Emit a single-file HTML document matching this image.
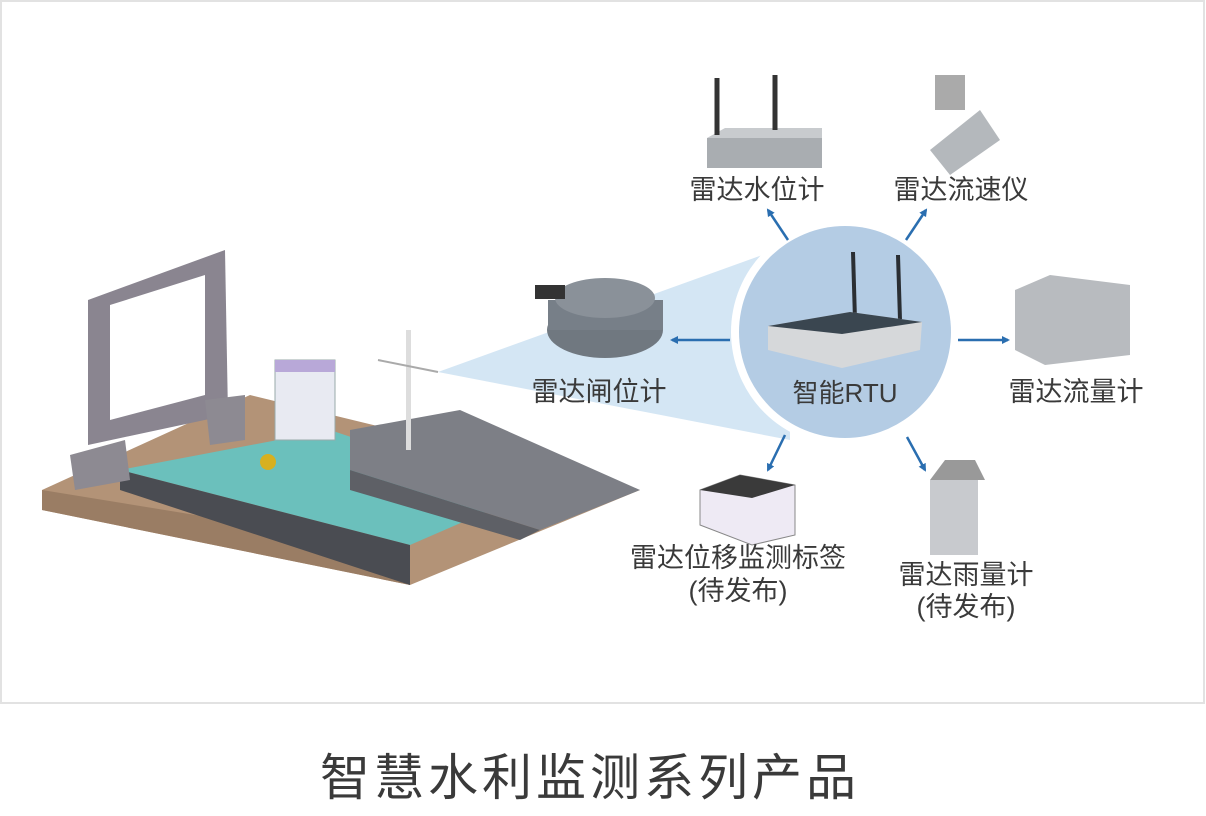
<!DOCTYPE html>
<html><head><meta charset="utf-8"><style>
html,body{margin:0;padding:0;background:#fff;}
svg{display:block;}
text{font-family:"Liberation Sans","Noto Sans CJK SC",sans-serif;fill:#3a3a3a;}
</style></head><body>
<svg width="1206" height="816" viewBox="0 0 1206 816" xmlns="http://www.w3.org/2000/svg">
<defs>
<marker id="ah" markerWidth="8" markerHeight="8" refX="6" refY="4" orient="auto" markerUnits="userSpaceOnUse"><path d="M0,0 L8,4 L0,8 z" fill="#2a6eb0"/></marker>
</defs>
<rect x="1" y="1" width="1203" height="702" fill="#fff" stroke="#e2e2e2" stroke-width="2"/>
<polygon points="438,372 790,245 790,440" fill="#cfe3f3" opacity="0.9"/>
<polygon points="42,490 250,395 640,490 410,585 42,510" fill="#b39377"/>
<polygon points="42,490 42,510 410,585 410,550" fill="#9a7d64"/>
<polygon points="120,470 330,430 525,495 410,545" fill="#5ec8c8" opacity="0.85"/>
<polygon points="350,430 460,410 640,490 540,530 350,470" fill="#7d7f86"/>
<polygon points="350,470 540,530 520,540 350,490" fill="#5e6066"/>
<polygon points="120,470 410,545 410,585 120,490" fill="#4a4c52"/>
<polygon points="88,300 225,250 228,415 88,445" fill="#8a8590"/>
<polygon points="110,305 205,275 205,395 110,420" fill="#fff"/>
<polygon points="70,455 125,440 130,480 75,490" fill="#8d8a92"/>
<polygon points="205,400 245,395 245,440 210,445" fill="#8d8a92"/>
<rect x="275" y="360" width="60" height="80" fill="#e8eaf2" stroke="#9aa" />
<rect x="275" y="360" width="60" height="12" fill="#b8a8d8"/>
<rect x="406" y="330" width="5" height="120" fill="#ddd"/>
<line x1="378" y1="360" x2="438" y2="372" stroke="#aaa" stroke-width="2"/>
<circle cx="268" cy="462" r="8" fill="#d7b020"/>
<circle cx="845" cy="332" r="114" fill="#fff"/>
<circle cx="845" cy="332" r="106" fill="#b4cce4"/>
<line x1="853" y1="252" x2="855" y2="320" stroke="#2a2e33" stroke-width="4"/>
<line x1="898" y1="255" x2="900" y2="320" stroke="#2a2e33" stroke-width="4"/>
<polygon points="768,326 850,312 922,322 920,350 842,368 768,350" fill="#d6d8da"/>
<polygon points="768,326 850,312 922,322 842,334" fill="#3a4650"/>
<text x="845" y="402" font-size="26" text-anchor="middle">智能RTU</text>
<g stroke="#2a6eb0" stroke-width="2.5" fill="none" marker-end="url(#ah)">
<line x1="788" y1="240" x2="768" y2="210"/>
<line x1="906" y1="240" x2="926" y2="210"/>
<line x1="958" y1="340" x2="1008" y2="340"/>
<line x1="730" y1="340" x2="672" y2="340"/>
<line x1="785" y1="435" x2="768" y2="470"/>
<line x1="907" y1="437" x2="925" y2="470"/>
</g>
<rect x="707" y="138" width="115" height="30" fill="#a9adb1"/>
<polygon points="707,138 725,128 822,128 822,138" fill="#c8cbce"/>
<line x1="717" y1="78" x2="717" y2="135" stroke="#333" stroke-width="5"/>
<line x1="775" y1="75" x2="775" y2="130" stroke="#333" stroke-width="5"/>
<text x="757" y="199" font-size="27" text-anchor="middle">雷达水位计</text>
<polygon points="930,150 980,110 1000,140 950,175" fill="#b4b8bc"/>
<rect x="935" y="75" width="30" height="35" fill="#aaa"/>
<text x="961" y="199" font-size="27" text-anchor="middle">雷达流速仪</text>
<polygon points="1015,290 1050,275 1130,285 1130,355 1045,365 1015,350" fill="#b8bbbf"/>
<text x="1076" y="401" font-size="27" text-anchor="middle">雷达流量计</text>
<ellipse cx="605" cy="330" rx="58" ry="28" fill="#707880"/>
<rect x="548" y="300" width="115" height="30" fill="#777f88"/>
<ellipse cx="605" cy="298" rx="50" ry="20" fill="#8a9199"/>
<rect x="535" y="285" width="30" height="14" fill="#333"/>
<text x="599" y="401" font-size="27" text-anchor="middle">雷达闸位计</text>
<polygon points="700,490 740,475 795,485 795,535 752,545 700,525" fill="#eeeaf4" stroke="#888"/>
<polygon points="700,490 740,475 795,485 752,498" fill="#3a3a3a"/>
<text x="738" y="567" font-size="27" text-anchor="middle">雷达位移监测标签</text>
<text x="738" y="600" font-size="27" text-anchor="middle">(待发布)</text>
<rect x="930" y="480" width="48" height="75" fill="#c8cace"/>
<polygon points="930,480 945,460 975,460 985,480" fill="#999"/>
<text x="966" y="584" font-size="27" text-anchor="middle">雷达雨量计</text>
<text x="966" y="616" font-size="27" text-anchor="middle">(待发布)</text>
<text x="590" y="795" font-size="50" letter-spacing="4" text-anchor="middle" fill="#222">智慧水利监测系列产品</text>
</svg>
</body></html>
